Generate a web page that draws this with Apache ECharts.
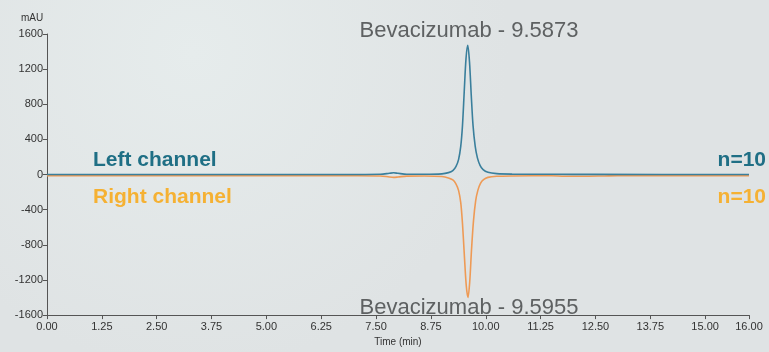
<!DOCTYPE html>
<html><head><meta charset="utf-8">
<script src="https://cdn.jsdelivr.net/npm/echarts@6/dist/echarts.min.js"></script>
<style>html,body{margin:0;padding:0;background:#e1e5e6}#c{width:769px;height:352px}</style>
</head><body><div id="c"></div>
<script>
// Time (min) and absorbance (mAU)
const leftTime  = [0, 2, 5, 7.0, 7.6, 7.8, 7.9, 8.0, 8.2, 8.6, 9.0, 9.15, 9.25, 9.32, 9.38, 9.43, 9.47, 9.51, 9.55, 9.59, 9.63, 9.67, 9.71, 9.76, 9.81, 9.87, 9.94, 10.05, 10.25, 10.6, 11.5, 12.5, 16];
const leftValue = [0, 0, 0, 1,   3,   14,  20,  14,  4,   3,   8,   22,   45,   90,   170,  320,  560,  950,  1320, 1470, 1280, 900,  560,  320,  190,  105,  55,   25,    10,    5,    3,    2,    0];
const rightTime  = [0, 2, 5, 7.0, 7.6, 7.8, 7.9, 8.0, 8.2, 8.6, 9.0, 9.15, 9.25, 9.32, 9.38, 9.43, 9.47, 9.51, 9.555, 9.595, 9.635, 9.675, 9.72, 9.77, 9.82, 9.88, 9.95, 10.05, 10.25, 10.6, 11.5, 11.8, 12.2, 12.7, 13.0, 16];
const rightValue = [-12, -12, -12, -13, -16, -28, -32, -28, -18, -16, -22, -38, -62, -105, -180, -320, -560, -900, -1260, -1400, -1220, -860, -530, -300, -180, -100, -58, -32, -20, -16, -14, -20, -20, -16, -13, -12];
const yTicks = [1600, 1200, 800, 400, 0, -400, -800, -1200, -1600];
const xTicks = [0, 1.25, 2.5, 3.75, 5, 6.25, 7.5, 8.75, 10, 11.25, 12.5, 13.75, 15, 16];
const leftPeakLabel = 'Bevacizumab - 9.5873';
const rightPeakLabel = 'Bevacizumab - 9.5955';

const zip = (a, b) => a.map((t, i) => [t, b[i]]);
const axisFont = "'Liberation Sans',Arial,sans-serif";
const chart = echarts.init(document.getElementById('c'), null, {renderer: 'canvas'});
chart.setOption({
  backgroundColor: {
    type: 'radial', x: 0.25, y: 0.15, r: 0.9,
    colorStops: [{offset: 0, color: '#e6ecec'}, {offset: 1, color: '#dfe3e4'}]
  },
  animation: false,
  grid: {left: 47, right: 20, top: 34, bottom: 34},
  xAxis: {
    type: 'value', min: 0, max: 16, interval: 1.25,
    name: 'Time (min)', nameLocation: 'middle', nameGap: 21,
    nameTextStyle: {fontFamily: axisFont, fontSize: 10, color: '#333'},
    axisLine: {onZero: false, lineStyle: {color: '#555', width: 1}},
    axisTick: {show: true, length: 4, lineStyle: {color: '#555'}},
    axisLabel: {fontFamily: axisFont, fontSize: 11, color: '#333', margin: 6,
      formatter: v => xTicks.includes(v) ? v.toFixed(2) : ''},
    splitLine: {show: false}
  },
  yAxis: {
    type: 'value', min: -1600, max: 1600, interval: 400,
    axisLine: {show: true, lineStyle: {color: '#555', width: 1}},
    axisTick: {show: true, length: 4, lineStyle: {color: '#555'}},
    axisLabel: {fontFamily: axisFont, fontSize: 11, color: '#333', margin: 4,
      formatter: v => yTicks.includes(v) ? String(v) : ''},
    splitLine: {show: false}
  },
  graphic: [
    {type: 'text', left: 21, top: 13, style: {text: 'mAU', font: "10px " + axisFont, fill: '#333'}},
    {type: 'text', x: 469, y: 31, style: {text: leftPeakLabel, font: "22px 'Liberation Sans',sans-serif", fill: '#5e6162', align: 'center', verticalAlign: 'middle'}},
    {type: 'text', x: 469, y: 308, style: {text: rightPeakLabel, font: "22px 'Liberation Sans',sans-serif", fill: '#5e6162', align: 'center', verticalAlign: 'middle'}},
    {type: 'text', x: 93, y: 160, style: {text: 'Left channel', font: "bold 21px 'Liberation Sans',sans-serif", fill: '#1f6f85', verticalAlign: 'middle'}},
    {type: 'text', x: 93, y: 197, style: {text: 'Right channel', font: "bold 21px 'Liberation Sans',sans-serif", fill: '#f5b133', verticalAlign: 'middle'}},
    {type: 'text', x: 766, y: 160, style: {text: 'n=10', font: "bold 21px 'Liberation Sans',sans-serif", fill: '#1f6f85', align: 'right', verticalAlign: 'middle'}},
    {type: 'text', x: 766, y: 197, style: {text: 'n=10', font: "bold 21px 'Liberation Sans',sans-serif", fill: '#f5b133', align: 'right', verticalAlign: 'middle'}}
  ],
  series: [
    {type: 'line', data: zip(rightTime, rightValue), showSymbol: false, smooth: 0.3,
      lineStyle: {color: '#ee9a55', width: 1.6}},
    {type: 'line', data: zip(leftTime, leftValue), showSymbol: false, smooth: 0.3,
      lineStyle: {color: '#3a7f9c', width: 1.6}}
  ]
});
</script></body></html>
